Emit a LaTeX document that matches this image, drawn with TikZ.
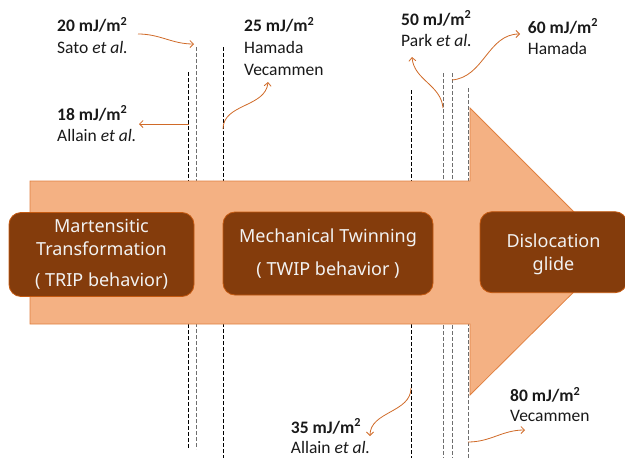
\documentclass[tikz,border=0pt]{standalone}
\usepackage{fontspec}
\setmainfont{Carlito}
\newfontfamily\boxfont{Noto Sans}
\usetikzlibrary{arrows.meta}
\definecolor{arrowfill}{HTML}{F4B183}
\definecolor{arrowline}{HTML}{E08040}
\definecolor{boxfill}{HTML}{843C0C}
\definecolor{boxline}{HTML}{C55A11}
\definecolor{boxtext}{HTML}{F2F2F2}
\definecolor{callout}{HTML}{D06A28}
\definecolor{dashgray}{HTML}{6E6E6E}
\newcommand{\sqm}{m\textsuperscript{2}}
\begin{document}
\begin{tikzpicture}[x=1pt,y=-1pt,
  lbl/.style={anchor=base west,inner sep=0pt,font=\fontsize{17.5}{20}\selectfont,text=black!90},
  stage/.style={draw=boxline,line width=0.8pt,fill=boxfill,rounded corners=12pt,text=boxtext,
    font=\boxfont\fontsize{18}{23}\selectfont,align=center,inner sep=0pt},
  guide/.style={dash pattern=on 3.5pt off 2.5pt,line width=0.7pt},
  callarrow/.style={draw=callout,line width=0.8pt,-{Straight Barb[length=3.5pt,width=7pt]}}]
\useasboundingbox (0,0) rectangle (625,458);
\clip (0,0) rectangle (625,458);

% dashed guide lines
\coordinate (a1) at (188.5,72);  \coordinate (a2) at (188.5,449);
\coordinate (b1) at (196,47);    \coordinate (b2) at (196,449);
\coordinate (c1) at (223,47);    \coordinate (c2) at (223,458);
\coordinate (d1) at (411,90);    \coordinate (d2) at (411,458);
\coordinate (e1) at (443,73);    \coordinate (e2) at (443,458);
\coordinate (f1) at (452,73);    \coordinate (f2) at (452,458);
\coordinate (g1) at (468,88);    \coordinate (g2) at (468,458);
\draw[guide,black] (a1) -- (a2);
\draw[guide,dashgray] (b1) -- (b2);
\draw[guide,black] (c1) -- (c2);
\draw[guide,black] (d1) -- (d2);
\draw[guide,dashgray] (e1) -- (e2);
\draw[guide,dashgray] (f1) -- (f2);
\draw[guide,dashgray] (g1) -- (g2);

% big arrow
\draw[draw=arrowline,fill=arrowfill,line width=0.8pt]
  (30,181) -- (470,181) -- (470,108) -- (614,252) -- (470,395) -- (470,324) -- (30,324) -- cycle;

% stage boxes
\node[stage,minimum width=185pt,minimum height=84pt] (trip) at (101.5,254.5)
  {Martensitic\\Transformation\\[8pt]( TRIP behavior)};
\node[stage,minimum width=210pt,minimum height=83pt] (twip) at (328,253.5)
  {Mechanical Twinning\\[10pt]( TWIP behavior )};
\node[stage,minimum width=147pt,minimum height=81pt,text depth=0pt] (glide) at (553.5,252.2)
  {Dislocation\\glide};

% labels
\node[lbl] (v20) at (57,31.5) {\textbf{20 mJ/\sqm}};
\node[lbl] (r20) at (57,53) {Sato \textit{et al.}};
\node[lbl] (v18) at (57,120) {\textbf{18 mJ/\sqm}};
\node[lbl] (r18) at (57,141.5) {Allain \textit{et al.}};
\node[lbl] (v25) at (244,31.5) {\textbf{25 mJ/\sqm}};
\node[lbl] (r25a) at (244,53) {Hamada};
\node[lbl] (r25b) at (244,75) {Vecammen};
\node[lbl] (v50) at (401,25) {\textbf{50 mJ/\sqm}};
\node[lbl] (r50) at (401,46) {Park \textit{et al.}};
\node[lbl] (v60) at (527.7,33) {\textbf{60 mJ/\sqm}};
\node[lbl] (r60) at (527.7,54) {Hamada};
\node[lbl] (v35) at (290.7,433) {\textbf{35 mJ/\sqm}};
\node[lbl] (r35) at (290.7,453) {Allain \textit{et al.}};
\node[lbl] (v80) at (510,401.7) {\textbf{80 mJ/\sqm}};
\node[lbl] (r80) at (510,421.5) {Vecammen};

% callout arrows
\coordinate (s20) at (138,34);   \coordinate (t20) at (194,44);
\coordinate (s18) at (188.5,124);\coordinate (t18) at (139,124);
\coordinate (s25) at (223,129);  \coordinate (t25) at (268,82);
\coordinate (s50) at (443,108);  \coordinate (t50) at (412,57);
\coordinate (s60) at (452,80);   \coordinate (t60) at (520,34);
\coordinate (s35) at (411,388);  \coordinate (t35) at (370,436);
\coordinate (s80) at (468,442);  \coordinate (t80) at (525,430);
\draw[callarrow] (s20) to[out=0,in=180] (t20);
\draw[callarrow] (s18) -- (t18);
\draw[callarrow] (s25) to[out=90,in=-95] (t25);
\draw[callarrow] (s50) to[out=95,in=-85] (t50);
\draw[callarrow] (s60) to[out=5,in=180] (t60);
\draw[callarrow] (s35) to[out=-90,in=90] (t35);
\draw[callarrow] (s80) to[out=0,in=180] (t80);
\end{tikzpicture}
\end{document}
